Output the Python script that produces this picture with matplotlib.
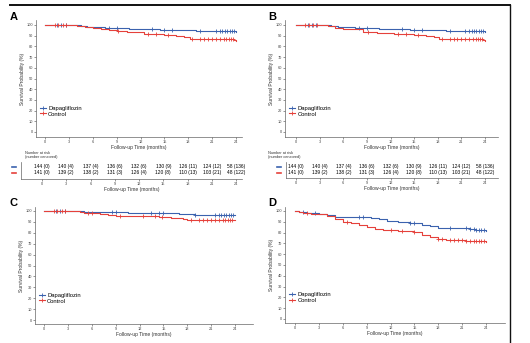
import numpy as np
import matplotlib.pyplot as plt
from matplotlib.lines import Line2D

W, H = 530, 343
BLUE = "#3b62ae"
RED = "#e5413b"

# Kaplan-Meier step data (time in months, survival %)
a_dapa_t = [0, 4.5, 5.3, 7.5, 10.6, 14.5, 16.5, 19.0, 24]
a_dapa_s = [100, 99, 98, 97.5, 96, 95.5, 95, 94, 93.5]
a_ctrl_t = [0, 4.0, 5.0, 6.0, 7.0, 8.0, 9.0, 10.3, 12.5, 15.0, 16.5, 17.5, 18.2, 23.7, 24]
a_ctrl_s = [100, 99, 98, 97, 96, 95, 94, 93, 92, 91, 90, 88.5, 87, 86, 85]
a_dapa_cens = [1.5, 2.0, 2.6, 8.0, 9.0, 13.5, 15.0, 16.0, 19.5, 21.5, 22.0, 22.3, 22.6, 22.9, 23.2, 23.5, 23.8]
a_ctrl_cens = [1.2, 1.6, 2.2, 2.7, 9.2, 13.0, 14.0, 15.5, 18.5, 19.5, 20.0, 20.5, 21.0, 21.5, 22.0, 22.5, 22.8, 23.1, 23.4, 23.6]

b_dapa_t = [0, 4.5, 5.3, 7.5, 10.6, 14.5, 16.5, 19.0, 24]
b_dapa_s = [100, 99, 98, 97.5, 96, 95.5, 95, 94, 93.5]
b_ctrl_t = [0, 4.0, 5.0, 6.0, 7.0, 8.5, 10.3, 12.5, 15.0, 16.5, 17.5, 18.2, 23.7, 24]
b_ctrl_s = [100, 99, 97.5, 96.5, 96, 93.5, 92.5, 92, 91, 90, 88.5, 87, 86, 85]
b_dapa_cens = [1.5, 2.0, 2.6, 8.0, 9.0, 13.5, 15.0, 16.0, 19.5, 21.5, 22.0, 22.3, 22.6, 22.9, 23.2, 23.5, 23.8]
b_ctrl_cens = [1.2, 1.6, 2.2, 2.7, 9.2, 13.0, 14.0, 15.5, 18.5, 19.5, 20.0, 20.5, 21.0, 21.5, 22.0, 22.5, 22.8, 23.1, 23.4, 23.6]

c_dapa_t = [0, 5.0, 10.5, 14.0, 17.0, 19.0, 24]
c_dapa_s = [100, 99, 98.5, 98, 97, 96.5, 96.5]
c_ctrl_t = [0, 4.5, 5.0, 7.0, 8.0, 9.0, 12.0, 14.5, 16.0, 17.5, 18.0, 24]
c_ctrl_s = [100, 99, 98, 97.5, 96.5, 95.5, 95, 94.5, 93.5, 92.5, 92, 92]
c_dapa_cens = [1.5, 2.0, 2.6, 8.5, 9.0, 13.5, 14.5, 15.0, 19.0, 21.5, 22.0, 22.3, 22.6, 22.9, 23.2, 23.5, 23.8]
c_ctrl_cens = [1.2, 1.6, 2.2, 2.7, 5.5, 6.0, 9.5, 12.5, 14.0, 14.8, 18.5, 19.5, 20.0, 20.5, 21.0, 21.5, 22.0, 22.5, 22.8, 23.1, 23.4, 23.6]

d_dapa_t = [0, 0.5, 1.0, 1.5, 3.0, 4.0, 5.0, 9.5, 10.5, 11.5, 13.0, 14.5, 16.0, 17.0, 18.0, 22.0, 22.7, 23.2, 24]
d_dapa_s = [100, 99.5, 99, 98, 97.5, 96.5, 94, 93.5, 92.5, 91, 90, 88.5, 87.5, 86, 84, 83.5, 82.5, 82, 81.5]
d_ctrl_t = [0, 0.5, 1.0, 2.0, 3.0, 4.0, 5.0, 6.0, 7.0, 8.0, 9.0, 10.0, 11.0, 13.0, 15.0, 16.0, 17.0, 18.0, 19.0, 21.5, 22.5, 24]
d_ctrl_s = [100, 99.5, 98.5, 97.5, 97, 95.5, 93, 90, 88.5, 87.5, 85, 83, 82, 81.5, 80.5, 78, 76, 74, 73, 72.5, 72, 71.5]
d_dapa_cens = [1.0, 2.5, 8.0, 8.5, 14.5, 15.0, 19.5, 21.5, 22.0, 22.5, 22.8, 23.1, 23.4, 23.7]
d_ctrl_cens = [1.5, 6.5, 12.0, 13.5, 15.0, 18.0, 18.5, 19.5, 20.0, 20.5, 21.0, 21.5, 22.0, 22.5, 22.8, 23.1, 23.4, 23.7]

risk_times = [0, 3, 6, 9, 12, 15, 18, 21, 24]
risk_dapa = ["144 (0)", "140 (4)", "137 (4)", "136 (6)", "132 (6)", "130 (9)", "126 (11)", "124 (12)", "58 (136)"]
risk_ctrl = ["141 (0)", "139 (2)", "138 (2)", "131 (3)", "126 (4)", "120 (8)", "110 (13)", "103 (21)", "48 (122)"]

fig = plt.figure(figsize=(W / 100, H / 100), dpi=100)
plt.rcParams["font.family"] = ["Liberation Sans", "DejaVu Sans"]


def box(l, t, r, b):
    # pixel box -> figure fraction
    return [l / W, 1 - b / H, (r - l) / W, (b - t) / H]


def surv_at(ts, ss, x):
    i = np.searchsorted(ts, x, side="right") - 1
    return ss[max(i, 0)]


def km_panel(rect, x0px, x24px, y100px, y0px, series, letter, lpos):
    l, t, r, b = rect
    ax = fig.add_axes(box(*rect))
    kx = (x24px - x0px) / 24
    ky = (y0px - y100px) / 100
    ax.set_xlim((l - x0px) / kx, (r - x0px) / kx)
    ax.set_ylim((y0px - b) / ky, (y0px - t) / ky)
    for ts, ss, cens, col in series:
        ax.step(ts, ss, where="post", color=col, lw=0.8)
        cy = [surv_at(ts, ss, c) for c in cens]
        ax.plot(cens, cy, ls="none", marker="+", ms=2.4, mew=0.6, color=col)
    for s in ["top", "right"]:
        ax.spines[s].set_visible(False)
    for s in ["left", "bottom"]:
        ax.spines[s].set_color("#666666")
        ax.spines[s].set_linewidth(0.5)
    ax.set_xticks(risk_times)
    ax.set_yticks(range(0, 101, 10))
    ax.tick_params(labelsize=2.8, length=1.2, width=0.4, pad=1, colors="#444444")
    ax.set_xlabel("Follow-up Time (months)", fontsize=3.6, labelpad=0.5, color="#333333")
    ax.set_ylabel("Survival Probability (%)", fontsize=3.6, labelpad=1, color="#333333")
    handles = [Line2D([], [], color=BLUE, lw=0.8, marker="+", ms=2.4, mew=0.6),
               Line2D([], [], color=RED, lw=0.8, marker="+", ms=2.4, mew=0.6)]
    ax.legend(handles, ["Dapagliflozin", "Control"], loc="lower left",
              bbox_to_anchor=(0.0, 0.14), fontsize=4.2, frameon=False,
              handlelength=1.0, handletextpad=0.4, labelspacing=0.15, borderpad=0.2)
    fig.text(lpos[0] / W, 1 - lpos[1] / H, letter, fontsize=8, fontweight="bold",
             ha="left", va="center")
    return ax


def risk_table(rect, x0px, x24px, row1, row2, header_pos):
    l, t, r, b = rect
    ax = fig.add_axes(box(*rect))
    kx = (x24px - x0px) / 24
    ax.set_xlim((l - x0px) / kx, (r - x0px) / kx)
    ax.set_ylim(b, t)
    for x, a, c in zip(risk_times, risk_dapa, risk_ctrl):
        ax.text(x, row1, a, fontsize=3.5, ha="center", va="center")
        ax.text(x, row2, c, fontsize=3.5, ha="center", va="center")
    for s in ["top", "right"]:
        ax.spines[s].set_visible(False)
    for s in ["left", "bottom"]:
        ax.spines[s].set_color("#666666")
        ax.spines[s].set_linewidth(0.5)
    ax.set_yticks([])
    ax.set_xticks(risk_times)
    ax.tick_params(labelsize=2.8, length=1.2, width=0.4, pad=1, colors="#444444")
    ax.set_xlabel("Follow-up Time (months)", fontsize=3.6, labelpad=0.5, color="#333333")
    fig.text(header_pos[0] / W, 1 - header_pos[1] / H, "Number at risk\n(number censored)",
             fontsize=2.8, ha="left", va="center", linespacing=1.0, color="#333333")
    # row markers
    fig.add_artist(Line2D([(l - 9) / W, (l - 5) / W], [1 - row1 / H] * 2, color=BLUE, lw=1.2))
    fig.add_artist(Line2D([(l - 9) / W, (l - 5) / W], [1 - row2 / H] * 2, color=RED, lw=1.2))
    return ax


km_panel((36, 20, 242, 137), 45, 236, 25, 132,
         [(a_dapa_t, a_dapa_s, a_dapa_cens, BLUE), (a_ctrl_t, a_ctrl_s, a_ctrl_cens, RED)],
         "A", (10, 17))
km_panel((285, 20, 498, 137), 296, 485, 25, 132,
         [(b_dapa_t, b_dapa_s, b_dapa_cens, BLUE), (b_ctrl_t, b_ctrl_s, b_ctrl_cens, RED)],
         "B", (268, 17))
km_panel((35, 207, 253, 324), 44, 235, 211, 320,
         [(c_dapa_t, c_dapa_s, c_dapa_cens, BLUE), (c_ctrl_t, c_ctrl_s, c_ctrl_cens, RED)],
         "C", (10, 203))
km_panel((285, 207, 505, 323), 295, 486, 211, 319,
         [(d_dapa_t, d_dapa_s, d_dapa_cens, BLUE), (d_ctrl_t, d_ctrl_s, d_ctrl_cens, RED)],
         "D", (268, 203))

risk_table((21, 162, 242, 179), 42, 236, 167, 173, (25, 155))
risk_table((286, 162, 498, 178), 296, 485, 167, 173, (268, 155))

# outer frame (top and right edges)
fig.add_artist(Line2D([10 / W, 510 / W], [1 - 5 / H] * 2, color="#111111", lw=1.4))
fig.add_artist(Line2D([510 / W, 510 / W], [1 - 5 / H, 0], color="#111111", lw=1.0))

fig.savefig("out.png", dpi=100)
